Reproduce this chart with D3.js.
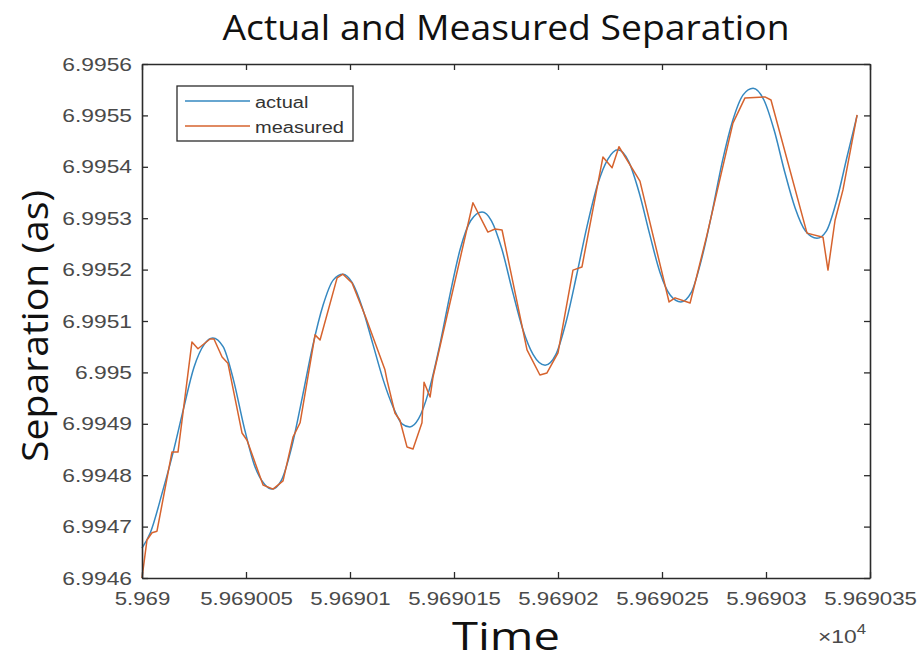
<!DOCTYPE html>
<html>
<head>
<meta charset="utf-8">
<script src="https://cdn.jsdelivr.net/npm/d3@7"></script>
<style>
  html, body { margin: 0; padding: 0; background: #fff; }
  svg { display: block; }
</style>
</head>
<body>
<svg id="chart" width="921" height="663"></svg>
<script>
// Time in days (MJD); separation in arcseconds
const actualTime = [
  59690.0, 59690.004, 59690.010, 59690.015, 59690.020, 59690.025, 59690.030, 59690.034,
  59690.039, 59690.044, 59690.049, 59690.054, 59690.059, 59690.0625, 59690.067, 59690.072,
  59690.077, 59690.082, 59690.087, 59690.092, 59690.0966, 59690.101, 59690.106, 59690.111,
  59690.116, 59690.121, 59690.125, 59690.1288, 59690.133, 59690.138, 59690.143, 59690.148,
  59690.153, 59690.158, 59690.1635, 59690.168, 59690.173, 59690.178, 59690.183, 59690.188,
  59690.1938, 59690.199, 59690.204, 59690.209, 59690.214, 59690.219, 59690.224, 59690.2288,
  59690.234, 59690.239, 59690.244, 59690.249, 59690.254, 59690.2591, 59690.264, 59690.269,
  59690.274, 59690.279, 59690.284, 59690.289, 59690.2938, 59690.299, 59690.304, 59690.309,
  59690.314, 59690.319, 59690.3245, 59690.329, 59690.334, 59690.339, 59690.3438
];
const actualSep = [
  6.994658, 6.994688, 6.99477, 6.994845, 6.99493, 6.99501, 6.995055, 6.995067,
  6.99505, 6.994985, 6.994895, 6.99482, 6.994782, 6.994773, 6.99479, 6.994855,
  6.99495, 6.99505, 6.99513, 6.99518, 6.995191, 6.995175, 6.995125, 6.995055,
  6.994985, 6.99493, 6.9949, 6.994894, 6.99491, 6.994965, 6.99505, 6.99515,
  6.99524, 6.995295, 6.995312, 6.995295, 6.99524, 6.99516, 6.995085, 6.995035,
  6.995014, 6.995035, 6.9951, 6.99519, 6.995285, 6.995365, 6.995415, 6.995433,
  6.99541, 6.99535, 6.99527, 6.995195, 6.99515, 6.995137, 6.995155, 6.99522,
  6.99531, 6.99541, 6.99549, 6.99554, 6.995553, 6.99553, 6.99547, 6.99539,
  6.99532, 6.995275, 6.995261, 6.995275, 6.995335, 6.99542, 6.9955
];
const measuredTime = [
  59690.0, 59690.0024, 59690.0048, 59690.0072, 59690.0144, 59690.0173, 59690.0197, 59690.0240,
  59690.0269, 59690.0327, 59690.0346, 59690.0385, 59690.0413, 59690.0481, 59690.0505, 59690.0582,
  59690.0630, 59690.0678, 59690.0726, 59690.0760, 59690.0832, 59690.0856, 59690.0938, 59690.0966,
  59690.1010, 59690.1077, 59690.1168, 59690.1178, 59690.1216, 59690.1240, 59690.1274, 59690.1303,
  59690.1346, 59690.1356, 59690.1385, 59690.1399, 59690.1591, 59690.1663, 59690.1697, 59690.1731,
  59690.1851, 59690.1913, 59690.1947, 59690.2000, 59690.2072, 59690.2115, 59690.2216, 59690.2260,
  59690.2293, 59690.2394, 59690.2534, 59690.2563, 59690.2635, 59690.2716, 59690.2841, 59690.2899,
  59690.2995, 59690.3024, 59690.3197, 59690.3274, 59690.3298, 59690.3332, 59690.3370, 59690.3438
];
const measuredSep = [
  6.9946, 6.994674, 6.994688, 6.994691, 6.994845, 6.994845, 6.994921, 6.995059,
  6.995046, 6.995065, 6.995065, 6.99503, 6.995018, 6.994882, 6.994868, 6.994781,
  6.994773, 6.994789, 6.994874, 6.994902, 6.995073, 6.995063, 6.995184, 6.995191,
  6.995174, 6.995106, 6.995005, 6.994985, 6.994921, 6.994907, 6.994855, 6.994851,
  6.994902, 6.994981, 6.994952, 6.994991, 6.99533, 6.995273, 6.995279, 6.995277,
  6.995044, 6.994995, 6.994999, 6.995038, 6.995199, 6.995205, 6.995419, 6.995398,
  6.995439, 6.995372, 6.995137, 6.995145, 6.995135, 6.995267, 6.995485, 6.995534,
  6.995536, 6.99553, 6.995271, 6.995263, 6.995199, 6.995296, 6.995355, 6.995501
];
const xTickValues = [59690.0, 59690.05, 59690.1, 59690.15, 59690.2, 59690.25, 59690.3, 59690.35];
const xTickLabels = ["5.969", "5.969005", "5.96901", "5.969015", "5.96902", "5.969025", "5.96903", "5.969035"];
const yTickValues = [6.9946, 6.9947, 6.9948, 6.9949, 6.995, 6.9951, 6.9952, 6.9953, 6.9954, 6.9955, 6.9956];
const yTickLabels = ["6.9946", "6.9947", "6.9948", "6.9949", "6.995", "6.9951", "6.9952", "6.9953", "6.9954", "6.9955", "6.9956"];
const seriesNames = ["actual", "measured"];
const seriesColors = ["#3588c0", "#d6632e"];

const svg = d3.select("#chart");
const plot = { left: 142, right: 870, top: 64, bottom: 578 };

const x = d3.scaleLinear().domain([59690.0, 59690.35]).range([plot.left, plot.right]);
const y = d3.scaleLinear().domain([6.9946, 6.9956]).range([plot.bottom, plot.top]);

const axisColor = "#2b2b2b";
const labelColor = "#4a4a4a";
const tickFont = "'Liberation Sans', Arial, sans-serif";
const bigFont = "'Open Sans', 'Noto Sans', sans-serif";

// widen a text horizontally by a factor, keeping its anchor
function widen(sel, factor) {
  sel.each(function () {
    const w = this.getComputedTextLength();
    d3.select(this).attr("textLength", w * factor).attr("lengthAdjust", "spacingAndGlyphs");
  });
}

// data lines
const series = [
  { t: actualTime, v: actualSep, curve: d3.curveMonotoneX },
  { t: measuredTime, v: measuredSep, curve: d3.curveLinear }
];
series.forEach((s, i) => {
  const pts = s.t.map((t, k) => [t, s.v[k]]);
  const line = d3.line().x(d => x(d[0])).y(d => y(d[1])).curve(s.curve);
  svg.append("path")
    .datum(pts)
    .attr("d", line)
    .attr("fill", "none")
    .attr("stroke", seriesColors[i])
    .attr("stroke-width", 1.5)
    .attr("stroke-linejoin", "round");
});

// axes with inward ticks on all four sides
function styleAxis(g) {
  g.select(".domain").attr("stroke", axisColor).attr("stroke-width", 1.6);
  g.selectAll(".tick line").attr("stroke", axisColor).attr("stroke-width", 1.3);
  g.selectAll("text")
    .attr("fill", labelColor)
    .style("font-family", tickFont)
    .style("font-size", "19px");
}

const xFmt = v => xTickLabels[xTickValues.findIndex(t => Math.abs(t - v) < 1e-6)];
const yFmt = v => yTickLabels[yTickValues.findIndex(t => Math.abs(t - v) < 1e-9)];

const gx = svg.append("g")
  .attr("transform", `translate(0,${plot.bottom})`)
  .call(d3.axisBottom(x).tickValues(xTickValues).tickFormat(xFmt).tickSize(-6).tickSizeOuter(0).tickPadding(14))
  .call(styleAxis);
svg.append("g")
  .attr("transform", `translate(0,${plot.top})`)
  .call(d3.axisTop(x).tickValues(xTickValues).tickFormat("").tickSize(-6).tickSizeOuter(0))
  .call(styleAxis);
const gy = svg.append("g")
  .attr("transform", `translate(${plot.left},0)`)
  .call(d3.axisLeft(y).tickValues(yTickValues).tickFormat(yFmt).tickSize(-6).tickSizeOuter(0).tickPadding(10))
  .call(styleAxis);
svg.append("g")
  .attr("transform", `translate(${plot.right},0)`)
  .call(d3.axisRight(y).tickValues(yTickValues).tickFormat("").tickSize(-6).tickSizeOuter(0))
  .call(styleAxis);
widen(gx.selectAll(".tick text"), 1.17);
widen(gy.selectAll(".tick text"), 1.2);

// exponent marker
const expo = svg.append("text")
  .attr("x", 818).attr("y", 643)
  .attr("fill", labelColor)
  .style("font-family", tickFont);
expo.append("tspan").style("font-size", "19px").text("\u00d710");
expo.append("tspan").attr("dy", -9).style("font-size", "14px").text("4");
widen(expo, 1.2);

// title and axis labels
const title = svg.append("text")
  .attr("x", 506).attr("y", 40)
  .attr("text-anchor", "middle")
  .attr("fill", "#111")
  .style("font-family", bigFont)
  .style("font-size", "35px")
  .text("Actual and Measured Separation");
title.attr("textLength", 567).attr("lengthAdjust", "spacingAndGlyphs");

svg.append("text")
  .attr("x", 506).attr("y", 650)
  .attr("text-anchor", "middle")
  .attr("fill", "#111")
  .style("font-family", bigFont)
  .style("font-size", "39px")
  .attr("textLength", 108).attr("lengthAdjust", "spacingAndGlyphs")
  .text("Time");

svg.append("text")
  .attr("transform", "translate(48,326) rotate(-90)")
  .attr("text-anchor", "middle")
  .attr("fill", "#111")
  .style("font-family", bigFont)
  .style("font-size", "36px")
  .attr("textLength", 272).attr("lengthAdjust", "spacingAndGlyphs")
  .text("Separation (as)");

// legend
const lg = svg.append("g");
lg.append("rect")
  .attr("x", 177).attr("y", 86).attr("width", 176).attr("height", 55)
  .attr("fill", "#fff").attr("stroke", axisColor).attr("stroke-width", 1.3);
seriesNames.forEach((name, i) => {
  const cy = 101 + i * 25;
  lg.append("line")
    .attr("x1", 185).attr("x2", 250).attr("y1", cy).attr("y2", cy)
    .attr("stroke", seriesColors[i]).attr("stroke-width", 1.5);
  const t = lg.append("text")
    .attr("x", 255).attr("y", cy + 7)
    .attr("fill", "#333")
    .style("font-family", tickFont)
    .style("font-size", "16px")
    .text(name);
  widen(t, 1.25);
});
</script>
</body>
</html>
